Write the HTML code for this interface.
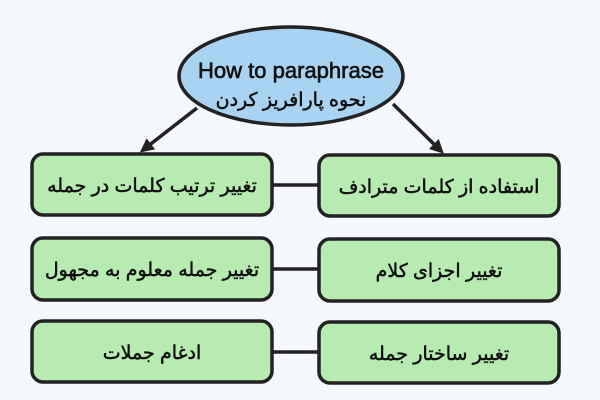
<!DOCTYPE html>
<html><head><meta charset="utf-8"><style>
html,body{margin:0;padding:0;background:#f4f7fb;}
svg{display:block}
text{font-family:"Liberation Sans","DejaVu Sans",sans-serif;}
</style></head><body>
<svg width="600" height="400" viewBox="0 0 600 400" xmlns="http://www.w3.org/2000/svg">
<rect width="600" height="400" fill="#f4f7fb"/>
<defs><marker id="a" markerWidth="14" markerHeight="14" refX="10" refY="7" orient="auto" markerUnits="userSpaceOnUse"><path d="M0,0 L14,7 L0,14 z" fill="#222"/></marker></defs>
<g stroke="#222" stroke-width="3.5">
<line x1="272" y1="185" x2="318" y2="185"/>
<line x1="272" y1="269" x2="318" y2="269"/>
<line x1="272" y1="352" x2="318" y2="352"/>
<line x1="197" y1="108" x2="143" y2="150" marker-end="url(#a)"/>
<line x1="393" y1="104" x2="441" y2="151" marker-end="url(#a)"/>
</g>
<ellipse cx="291" cy="76" rx="112" ry="49" fill="#a8d3f3" stroke="#222" stroke-width="3.5"/>
<text x="291" y="78" font-size="22" stroke="#111" stroke-width="0.6" text-anchor="middle" fill="#111">How to paraphrase</text>
<text x="291" y="106" font-size="19" stroke="#111" stroke-width="0.5" text-anchor="middle" fill="#111" direction="rtl">نحوه پارافریز کردن</text>
<g fill="#b6ecb0" stroke="#222" stroke-width="3.5">
<rect x="32" y="154" width="240" height="61" rx="11"/>
<rect x="32" y="238" width="240" height="62" rx="11"/>
<rect x="32" y="321" width="240" height="61" rx="11"/>
<rect x="319" y="155" width="240" height="61" rx="11"/>
<rect x="319" y="239" width="240" height="62" rx="11"/>
<rect x="319" y="322" width="240" height="61" rx="11"/>
</g>
<g font-size="19" stroke="#111" stroke-width="0.5" text-anchor="middle" fill="#111">
<text x="152" y="192" direction="rtl">تغییر ترتیب کلمات در جمله</text>
<text x="152" y="276" direction="rtl">تغییر جمله معلوم به مجهول</text>
<text x="152" y="359" direction="rtl">ادغام جملات</text>
<text x="439" y="193" direction="rtl">استفاده از کلمات مترادف</text>
<text x="439" y="277" direction="rtl">تغییر اجزای کلام</text>
<text x="439" y="360" direction="rtl">تغییر ساختار جمله</text>
</g>
</svg>
</body></html>
